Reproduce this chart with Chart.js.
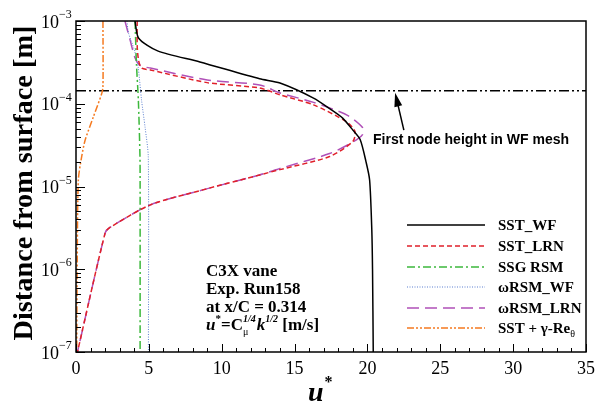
<!DOCTYPE html>
<html>
<head>
<meta charset="utf-8">
<script src="https://cdn.jsdelivr.net/npm/chart.js@4/dist/chart.umd.min.js"></script>
<style>
  body { margin: 0; background: #fff; }
  #wrap { width: 603px; height: 403px; }
</style>
</head>
<body>
<div id="wrap"><canvas id="profileChart" width="603" height="403"></canvas></div>
<script>
// axis ticks
const uTicks = [0, 5, 10, 15, 20, 25, 30, 35];
const yDecades = [-7, -6, -5, -4, -3];

// u* profiles (u*, distance from surface [m])
const sstWfU = [4.05, 4.3, 5.6, 8.5, 12.6, 14.0, 16.3, 17.5, 18.3, 19.0, 19.5, 19.9, 20.15, 20.3, 20.35, 20.4];
const sstWfY = [1e-3, 6.2e-4, 4.35e-4, 3.2e-4, 2.0e-4, 1.78e-4, 1.17e-4, 8.5e-5, 6.7e-5, 4.8e-5, 3.7e-5, 2.0e-5, 1.2e-5, 3e-6, 1e-6, 1e-7];

const sstLrnU = [4.2, 4.2, 4.3, 4.5, 5.1, 9.0, 12.6, 14.0, 16.3, 18.6, 19.15, 19.0, 17.4, 14.0, 12.6, 8.7, 5.1, 2.33, 2.0, 0.1];
const sstLrnY = [1e-3, 5e-4, 3.3e-4, 2.7e-4, 2.56e-4, 1.8e-4, 1.55e-4, 1.28e-4, 9.7e-5, 6.0e-5, 4.6e-5, 3.5e-5, 2.3e-5, 1.6e-5, 1.38e-5, 9.1e-6, 6.0e-6, 3.2e-6, 2.75e-6, 1e-7];

const ssgRsmU = [4.05, 4.15, 4.28, 4.39, 4.4, 4.4];
const ssgRsmY = [1e-3, 3e-4, 1.1e-4, 2.3e-5, 1e-5, 1e-7];

const wRsmWfU = [3.5, 3.6, 4.0, 4.26, 4.5, 4.74, 4.96, 4.97];
const wRsmWfY = [1e-3, 7.2e-4, 4.5e-4, 2.8e-4, 1.1e-4, 5.2e-5, 2.3e-5, 1e-7];

const wRsmLrnU = [3.36, 3.7, 4.05, 4.4, 5.1, 9.0, 12.6, 14.0, 16.3, 18.6, 19.65, 19.65, 18.9, 17.4, 14.0, 12.6, 8.7, 5.1, 2.33, 2.0, 0.1];
const wRsmLrnY = [1e-3, 6e-4, 3.6e-4, 2.9e-4, 2.7e-4, 1.94e-4, 1.69e-4, 1.35e-4, 1.04e-4, 7.3e-5, 5.2e-5, 4.2e-5, 3.36e-5, 2.5e-5, 1.65e-5, 1.38e-5, 9.1e-6, 6.0e-6, 3.2e-6, 2.75e-6, 1e-7];

const sstGammaU = [1.85, 1.85, 1.75, 1.2, 0.62, 0.39, 0.16, 0.08, 0.05];
const sstGammaY = [1e-3, 1.6e-4, 1.3e-4, 7e-5, 3.6e-5, 2.3e-5, 1.2e-5, 1e-6, 1e-7];

// first node height of the WF mesh
const firstNodeU = [0, 35];
const firstNodeY = [1.44e-4, 1.44e-4];

function pts(us, ys) {
    return us.map((u, i) => ({ x: u, y: ys[i] }));
}

const SERIF = '"Liberation Serif", "Times New Roman", serif';
const SANS = '"Liberation Sans", Arial, sans-serif';

function line(label, us, ys, color, dash, width) {
    return {
        label: label,
        data: pts(us, ys),
        borderColor: color,
        backgroundColor: color,
        borderDash: dash,
        borderWidth: width,
        showLine: true,
        pointRadius: 0,
        fill: false,
        tension: 0.25
    };
}

const datasets = [
    line('SST_WF', sstWfU, sstWfY, '#000000', [], 1.5),
    line('SST_LRN', sstLrnU, sstLrnY, '#e0202a', [5, 3], 1.5),
    line('SSG RSM', ssgRsmU, ssgRsmY, '#3cb83c', [8, 3, 2, 3], 1.5),
    line('ωRSM_WF', wRsmWfU, wRsmWfY, '#5b7fd0', [1, 1.5], 1),
    line('ωRSM_LRN', wRsmLrnU, wRsmLrnY, '#b050b8', [12, 6], 1.5),
    line('SST + γ-Reθ', sstGammaU, sstGammaY, '#f57a20', [7, 2, 2, 2, 2, 2], 1.5),
    line('first node', firstNodeU, firstNodeY, '#000000', [10, 3, 2, 3, 2, 3], 1.5)
];
datasets[6].tension = 0;

// draws a row of text pieces (sub/superscripts)
function drawRuns(ctx, x, y, runs) {
    runs.forEach(r => {
        ctx.font = r.font;
        ctx.fillText(r.t, x, y + (r.dy || 0));
        if (!r.stay) x += ctx.measureText(r.t).width + (r.gap || 0);
    });
}

const decorPlugin = {
    id: 'decor',
    afterDraw(chart) {
        const ctx = chart.ctx;
        const a = chart.chartArea;
        const xs = chart.scales.x, ys = chart.scales.y;
        ctx.save();
        ctx.fillStyle = '#000';
        ctx.strokeStyle = '#000';

        // frame
        ctx.lineWidth = 1.5;
        ctx.strokeRect(a.left, a.top, a.right - a.left, a.bottom - a.top);

        // inward ticks, bottom axis
        ctx.lineWidth = 1;
        ctx.beginPath();
        for (let u = 0; u <= 35; u++) {
            const px = Math.round(xs.getPixelForValue(u)) + 0.5;
            const len = (u % 5 === 0) ? 8 : 4;
            ctx.moveTo(px, a.bottom);
            ctx.lineTo(px, a.bottom - len);
        }
        // inward ticks, left axis
        yDecades.forEach(d => {
            for (let m = 1; m <= 9; m++) {
                if (d === -3 && m > 1) break;
                const py = Math.round(ys.getPixelForValue(m * Math.pow(10, d))) + 0.5;
                const len = m === 1 ? 9 : 5;
                ctx.moveTo(a.left, py);
                ctx.lineTo(a.left + len, py);
            }
        });
        ctx.stroke();

        // x tick labels
        ctx.textAlign = 'center';
        ctx.textBaseline = 'top';
        ctx.font = '18px ' + SERIF;
        uTicks.forEach(u => ctx.fillText(String(u), xs.getPixelForValue(u), a.bottom + 8));

        // y tick labels 10^n
        ctx.textAlign = 'left';
        ctx.textBaseline = 'middle';
        yDecades.forEach(d => {
            const py = ys.getPixelForValue(Math.pow(10, d));
            ctx.font = '18px ' + SERIF;
            ctx.fillText('10', 41, py + 2);
            ctx.font = '12px ' + SERIF;
            ctx.fillText(String(d).replace('-', '\u2212'), 59, py - 6);
        });

        // axis titles
        ctx.save();
        ctx.translate(25, 183);
        ctx.rotate(-Math.PI / 2);
        ctx.textAlign = 'center';
        ctx.font = 'bold 27px ' + SERIF;
        const yTitle = 'Distance from surface [m]';
        const stretch = 315 / ctx.measureText(yTitle).width;
        ctx.scale(stretch, 1);
        ctx.fillText(yTitle, 0, 0);
        ctx.restore();

        ctx.textAlign = 'left';
        ctx.textBaseline = 'alphabetic';
        drawRuns(ctx, 308, 401, [
            { t: 'u', font: 'bold italic 28px ' + SERIF, gap: 1 },
            { t: '*', font: 'bold 16px ' + SERIF, dy: -14 }
        ]);

        // legend
        const rows = [225, 246, 267, 287, 308, 328];
        for (let i = 0; i < 6; i++) {
            const ds = chart.data.datasets[i];
            ctx.save();
            ctx.strokeStyle = ds.borderColor;
            ctx.lineWidth = ds.borderWidth;
            ctx.setLineDash(ds.borderDash);
            ctx.beginPath();
            ctx.moveTo(407, rows[i]);
            ctx.lineTo(485, rows[i]);
            ctx.stroke();
            ctx.restore();
        }
        ctx.textBaseline = 'middle';
        const lf = 'bold 15px ' + SERIF;
        ['SST_WF', 'SST_LRN', 'SSG RSM', 'ωRSM_WF', 'ωRSM_LRN'].forEach((t, i) => {
            ctx.font = lf;
            ctx.fillText(t, 498, rows[i] + 1);
        });
        drawRuns(ctx, 498, rows[5] + 1, [
            { t: 'SST + γ-Re', font: lf },
            { t: 'θ', font: '10px ' + SERIF, dy: 5 }
        ]);

        // case description
        ctx.textBaseline = 'alphabetic';
        const bf = 'bold 17px ' + SERIF;
        ctx.font = bf;
        ctx.fillText('C3X vane', 206, 276);
        ctx.fillText('Exp. Run158', 206, 294);
        ctx.fillText('at x/C = 0.314', 206, 312);
        drawRuns(ctx, 206, 330, [
            { t: 'u', font: 'bold italic 17px ' + SERIF },
            { t: '*', font: 'bold 11px ' + SERIF, dy: -8 },
            { t: '=C', font: bf },
            { t: 'μ', font: '10px ' + SERIF, dy: 5, stay: true },
            { t: '1/4', font: 'bold italic 10px ' + SERIF, dy: -8, gap: 1 },
            { t: 'k', font: 'bold italic 17px ' + SERIF },
            { t: '1/2', font: 'bold italic 10px ' + SERIF, dy: -8 },
            { t: ' [m/s]', font: bf }
        ]);

        // first node annotation
        const tipX = xs.getPixelForValue(21.9), tipY = ys.getPixelForValue(1.44e-4) + 2;
        const tailX = xs.getPixelForValue(22.5), tailY = ys.getPixelForValue(4.8e-5);
        const ang = Math.atan2(tipY - tailY, tipX - tailX);
        ctx.lineWidth = 1.5;
        ctx.beginPath();
        ctx.moveTo(tailX, tailY);
        ctx.lineTo(tipX - 10 * Math.cos(ang), tipY - 10 * Math.sin(ang));
        ctx.stroke();
        ctx.beginPath();
        ctx.moveTo(tipX, tipY);
        ctx.lineTo(tipX - 14 * Math.cos(ang) + 4 * Math.sin(ang), tipY - 14 * Math.sin(ang) - 4 * Math.cos(ang));
        ctx.lineTo(tipX - 14 * Math.cos(ang) - 4 * Math.sin(ang), tipY - 14 * Math.sin(ang) + 4 * Math.cos(ang));
        ctx.closePath();
        ctx.fill();
        ctx.font = 'bold 14px ' + SANS;
        ctx.textBaseline = 'middle';
        ctx.fillText('First node height in WF mesh', 373, 140);

        ctx.restore();
    }
};

new Chart(document.getElementById('profileChart').getContext('2d'), {
    type: 'scatter',
    data: { datasets: datasets },
    options: {
        responsive: false,
        animation: false,
        layout: { padding: { left: 76, right: 17, top: 21, bottom: 51 } },
        plugins: { legend: { display: false }, tooltip: { enabled: false } },
        scales: {
            x: { type: 'linear', min: 0, max: 35, display: false },
            y: { type: 'logarithmic', min: 1e-7, max: 1e-3, display: false }
        }
    },
    plugins: [decorPlugin]
});
</script>
</body>
</html>
